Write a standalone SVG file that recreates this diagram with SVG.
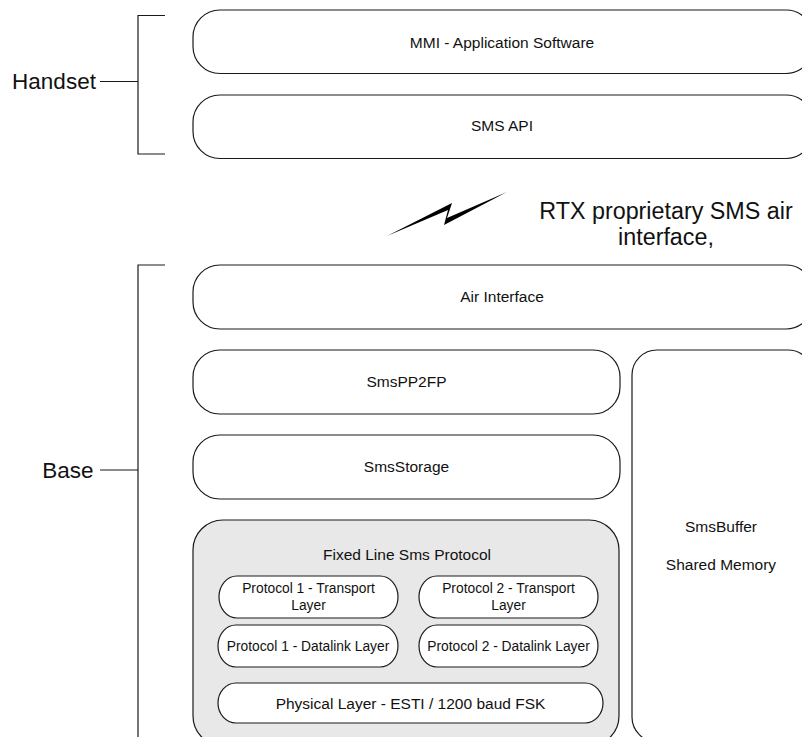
<svg xmlns="http://www.w3.org/2000/svg" width="802" height="737" viewBox="0 0 802 737">
  <style>
    .box { fill: #ffffff; stroke: #1a1a1a; stroke-width: 1.2; }
    .grey { fill: #e8e8e8; stroke: #1a1a1a; stroke-width: 1.2; }
    .line { fill: none; stroke: #1a1a1a; stroke-width: 1.2; }
    .t { font-family: "Liberation Sans", Arial, sans-serif; fill: #111; text-anchor: middle; }
    .big { font-size: 22.5px; }
    .air { font-size: 23.3px; }
    .mid { font-size: 15.5px; }
    .small { font-size: 13.8px; }
  </style>

  <!-- brackets, stems and the radio link symbol -->
  <g id="connectors">
    <polyline class="line" points="165,15.5 138,15.5 138,154 165,154"/>
    <line class="line" x1="100" y1="81.5" x2="138" y2="81.5"/>
    <polyline class="line" points="165,265 138,265 138,745"/>
    <line class="line" x1="100" y1="470" x2="138" y2="470"/>
    <polygon fill="#000" points="387,236 452,203 447,218 507,192 444,225 448,210"/>
  </g>

  <g id="label-handset"><text class="t big" x="54" y="89">Handset</text></g>
  <g id="label-base"><text class="t big" x="68" y="478">Base</text></g>
  <g id="label-air">
    <text class="t air" x="666" y="219">RTX proprietary SMS air</text>
    <text class="t air" x="666" y="245">interface,</text>
  </g>

  <!-- handset layers -->
  <g id="mmi">
    <rect class="box" x="193" y="10" width="620" height="63.5" rx="27" ry="27"/>
    <text class="t mid" x="502" y="47.5">MMI - Application Software</text>
  </g>
  <g id="sms-api">
    <rect class="box" x="193" y="95" width="620" height="63.5" rx="27" ry="27"/>
    <text class="t mid" x="502" y="131">SMS API</text>
  </g>

  <!-- base layers -->
  <g id="air-interface">
    <rect class="box" x="193" y="265" width="620" height="64" rx="27" ry="27"/>
    <text class="t mid" x="502" y="302">Air Interface</text>
  </g>
  <g id="smspp2fp">
    <rect class="box" x="193" y="350" width="427" height="64" rx="27" ry="27"/>
    <text class="t mid" x="406.5" y="387">SmsPP2FP</text>
  </g>
  <g id="smsstorage">
    <rect class="box" x="193" y="435" width="427" height="64" rx="27" ry="27"/>
    <text class="t mid" x="406.5" y="472">SmsStorage</text>
  </g>
  <g id="smsbuffer">
    <rect class="box" x="632" y="350" width="181" height="392" rx="25" ry="25"/>
    <text class="t mid" x="721" y="532">SmsBuffer</text>
    <text class="t mid" x="721" y="570">Shared Memory</text>
  </g>

  <g id="fixed-line">
    <rect class="grey" x="193" y="520" width="426" height="226" rx="30" ry="30"/>
    <text class="t mid" x="407" y="560">Fixed Line Sms Protocol</text>
  </g>
  <g id="p1-transport">
    <rect class="box" x="219" y="576" width="179" height="42" rx="18" ry="21"/>
    <text class="t small" x="308.5" y="593">Protocol 1 - Transport</text>
    <text class="t small" x="308.5" y="610">Layer</text>
  </g>
  <g id="p2-transport">
    <rect class="box" x="419" y="576" width="179" height="42" rx="18" ry="21"/>
    <text class="t small" x="508.5" y="593">Protocol 2 - Transport</text>
    <text class="t small" x="508.5" y="610">Layer</text>
  </g>
  <g id="p1-datalink">
    <rect class="box" x="218" y="625" width="180" height="42" rx="18" ry="21"/>
    <text class="t small" x="308" y="651">Protocol 1 - Datalink Layer</text>
  </g>
  <g id="p2-datalink">
    <rect class="box" x="419" y="625" width="179" height="42" rx="18" ry="21"/>
    <text class="t small" x="508.5" y="651">Protocol 2 - Datalink Layer</text>
  </g>
  <g id="physical">
    <rect class="box" x="218" y="683" width="385" height="40" rx="18" ry="20"/>
    <text class="t mid" x="410.5" y="708.5">Physical Layer - ESTI / 1200 baud FSK</text>
  </g>
</svg>
